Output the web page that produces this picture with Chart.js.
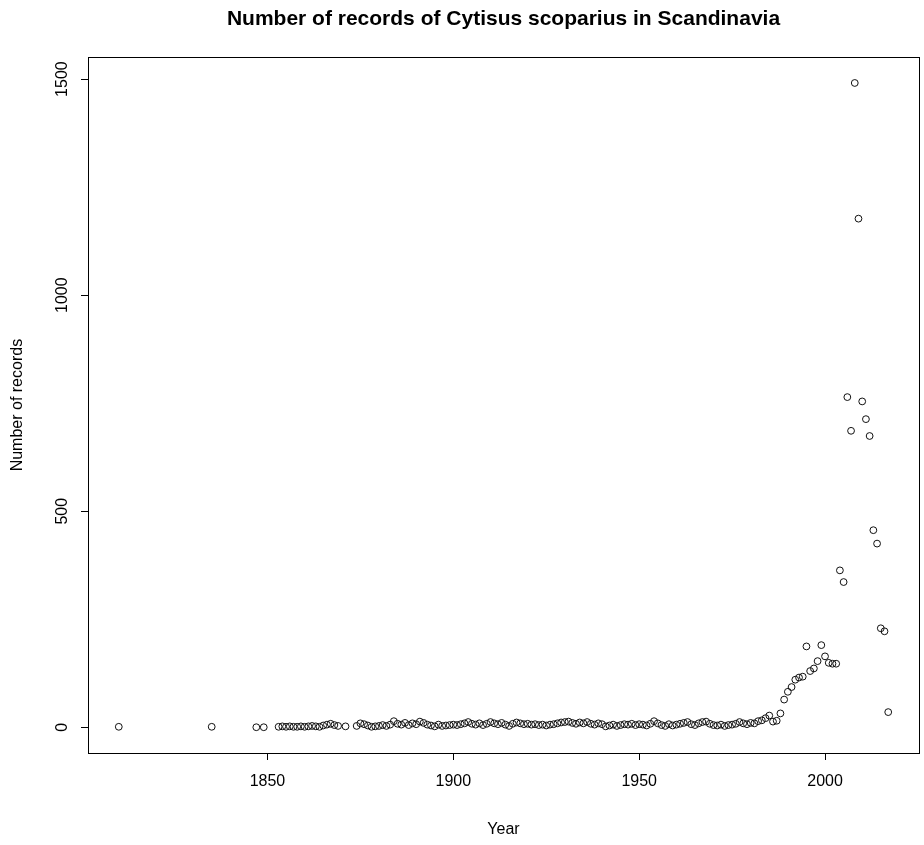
<!DOCTYPE html>
<html>
<head>
<meta charset="utf-8">
<title>Cytisus scoparius records</title>
<script src="https://cdn.jsdelivr.net/npm/chart.js@4/dist/chart.umd.min.js"></script>
<style>
  html, body { margin: 0; padding: 0; background: #fff; }
  canvas { display: block; }
</style>
</head>
<body>
<canvas id="chart" width="924" height="845"></canvas>
<script>
// ========= DATA ========= //
const years = [
  1810, 1835, 1847, 1849,
  1853, 1854, 1855, 1856, 1857, 1858, 1859, 1860, 1861, 1862, 1863, 1864, 1865, 1866, 1867, 1868, 1869,
  1871, 1874, 1875, 1876, 1877, 1878, 1879,
  1880, 1881, 1882, 1883, 1884, 1885, 1886, 1887, 1888, 1889,
  1890, 1891, 1892, 1893, 1894, 1895, 1896, 1897, 1898, 1899,
  1900, 1901, 1902, 1903, 1904, 1905, 1906, 1907, 1908, 1909,
  1910, 1911, 1912, 1913, 1914, 1915, 1916, 1917, 1918, 1919,
  1920, 1921, 1922, 1923, 1924, 1925, 1926, 1927, 1928, 1929,
  1930, 1931, 1932, 1933, 1934, 1935, 1936, 1937, 1938, 1939,
  1940, 1941, 1942, 1943, 1944, 1945, 1946, 1947, 1948, 1949,
  1950, 1951, 1952, 1953, 1954, 1955, 1956, 1957, 1958, 1959,
  1960, 1961, 1962, 1963, 1964, 1965, 1966, 1967, 1968, 1969,
  1970, 1971, 1972, 1973, 1974, 1975, 1976, 1977, 1978, 1979,
  1980, 1981, 1982, 1983, 1984, 1985, 1986, 1987, 1988, 1989,
  1990, 1991, 1992, 1993, 1994, 1995, 1996, 1997, 1998, 1999,
  2000, 2001, 2002, 2003, 2004, 2005, 2006, 2007, 2008, 2009,
  2010, 2011, 2012, 2013, 2014, 2015, 2016, 2017
];

const records = [
  1, 1, 0, 0,
  1, 2, 1, 2, 1, 1, 2, 1, 2, 3, 2, 1, 4, 6, 8, 5, 3,
  2, 3, 9, 7, 4, 1, 2,
  3, 5, 3, 6, 14, 8, 6, 10, 5, 9,
  7, 13, 10, 6, 4, 2, 6, 3, 4, 5,
  6, 5, 7, 9, 12, 8, 6, 9, 5, 8,
  12, 9, 7, 10, 6, 3, 8, 11, 9, 7,
  8, 6, 7, 5, 6, 4, 6, 7, 9, 11,
  12, 13, 10, 8, 11, 9, 12, 8, 6, 9,
  7, 2, 4, 6, 3, 5, 7, 6, 8, 5,
  7, 6, 4, 8, 14, 9, 5, 3, 7, 4,
  6, 8, 10, 12, 7, 5, 9, 12, 13, 8,
  5, 4, 6, 3, 5, 6, 8, 12, 9, 7,
  10, 9, 14, 16, 21, 27, 13, 15, 32, 64,
  82, 93, 110, 115, 117, 187, 130, 136, 153, 190,
  164, 149, 147, 147, 363, 336, 764, 686, 1491, 1177,
  754, 713, 674, 456, 425, 229, 222, 35
];

const xTicks = [1850, 1900, 1950, 2000];
const yTicks = [0, 500, 1000, 1500];

// R-style axis limits: data range padded by 4% on each side
const xPad = (2017 - 1810) * 0.04;
const yPad = (1491 - 0) * 0.04;

const FONT = "'Liberation Sans', Arial, sans-serif";

// ========= PLOT BOX ========= //
const boxPlugin = {
  id: "box",
  afterDraw(chart) {
    const { ctx, chartArea: a } = chart;
    ctx.save();
    ctx.strokeStyle = "#000";
    ctx.lineWidth = 1;
    ctx.strokeRect(Math.round(a.left) + 0.5, Math.round(a.top) + 0.5,
                   Math.round(a.right - a.left), Math.round(a.bottom - a.top));
    ctx.restore();
  }
};

const whiteBg = {
  id: "whiteBg",
  beforeDraw(chart) {
    const { ctx, width, height } = chart;
    ctx.save();
    ctx.fillStyle = "#fff";
    ctx.fillRect(0, 0, width, height);
    ctx.restore();
  }
};

// ========= CHART ========= //
new Chart(document.getElementById("chart"), {
  type: "scatter",
  data: {
    datasets: [{
      data: years.map((y, i) => ({ x: y, y: records[i] })),
      pointStyle: "circle",
      pointRadius: 3.4,
      pointBorderWidth: 1,
      pointBorderColor: "#111",
      pointBackgroundColor: "rgba(0,0,0,0)"
    }]
  },
  options: {
    responsive: false,
    animation: false,
    layout: { padding: { left: 0, right: 2, top: 0, bottom: 0 } },
    plugins: {
      legend: { display: false },
      tooltip: { enabled: false },
      title: {
        display: true,
        fullSize: false,
        text: "Number of records of Cytisus scoparius in Scandinavia",
        color: "#000",
        font: { family: FONT, size: 21, weight: "bold" },
        padding: { top: 7, bottom: 25 }
      }
    },
    scales: {
      x: {
        type: "linear",
        min: 1810 - xPad,
        max: 2017 + xPad,
        afterBuildTicks: s => { s.ticks = xTicks.map(v => ({ value: v })); },
        afterFit: s => { s.height = 92; },
        border: { display: false },
        grid: { drawOnChartArea: false, drawTicks: true, tickLength: 7, color: "#000" },
        ticks: {
          color: "#000",
          padding: 12,
          maxRotation: 0,
          font: { family: FONT, size: 16 },
          callback: v => String(v)
        },
        title: {
          display: true,
          text: "Year",
          color: "#000",
          font: { family: FONT, size: 16 },
          padding: { top: 0, bottom: 6 }
        }
      },
      y: {
        type: "linear",
        min: 0 - yPad,
        max: 1491 + yPad,
        afterBuildTicks: s => { s.ticks = yTicks.map(v => ({ value: v })); },
        afterFit: s => { s.width = 88; },
        border: { display: false },
        grid: { drawOnChartArea: false, drawTicks: true, tickLength: 7, color: "#000" },
        ticks: {
          color: "#000",
          padding: 1,
          minRotation: 90,
          maxRotation: 90,
          crossAlign: "center",
          font: { family: FONT, size: 16 },
          callback: v => String(v)
        },
        title: {
          display: true,
          text: "Number of records",
          color: "#000",
          font: { family: FONT, size: 16 },
          padding: { top: 8, bottom: 0 }
        }
      }
    }
  },
  plugins: [whiteBg, boxPlugin]
});
</script>
</body>
</html>
